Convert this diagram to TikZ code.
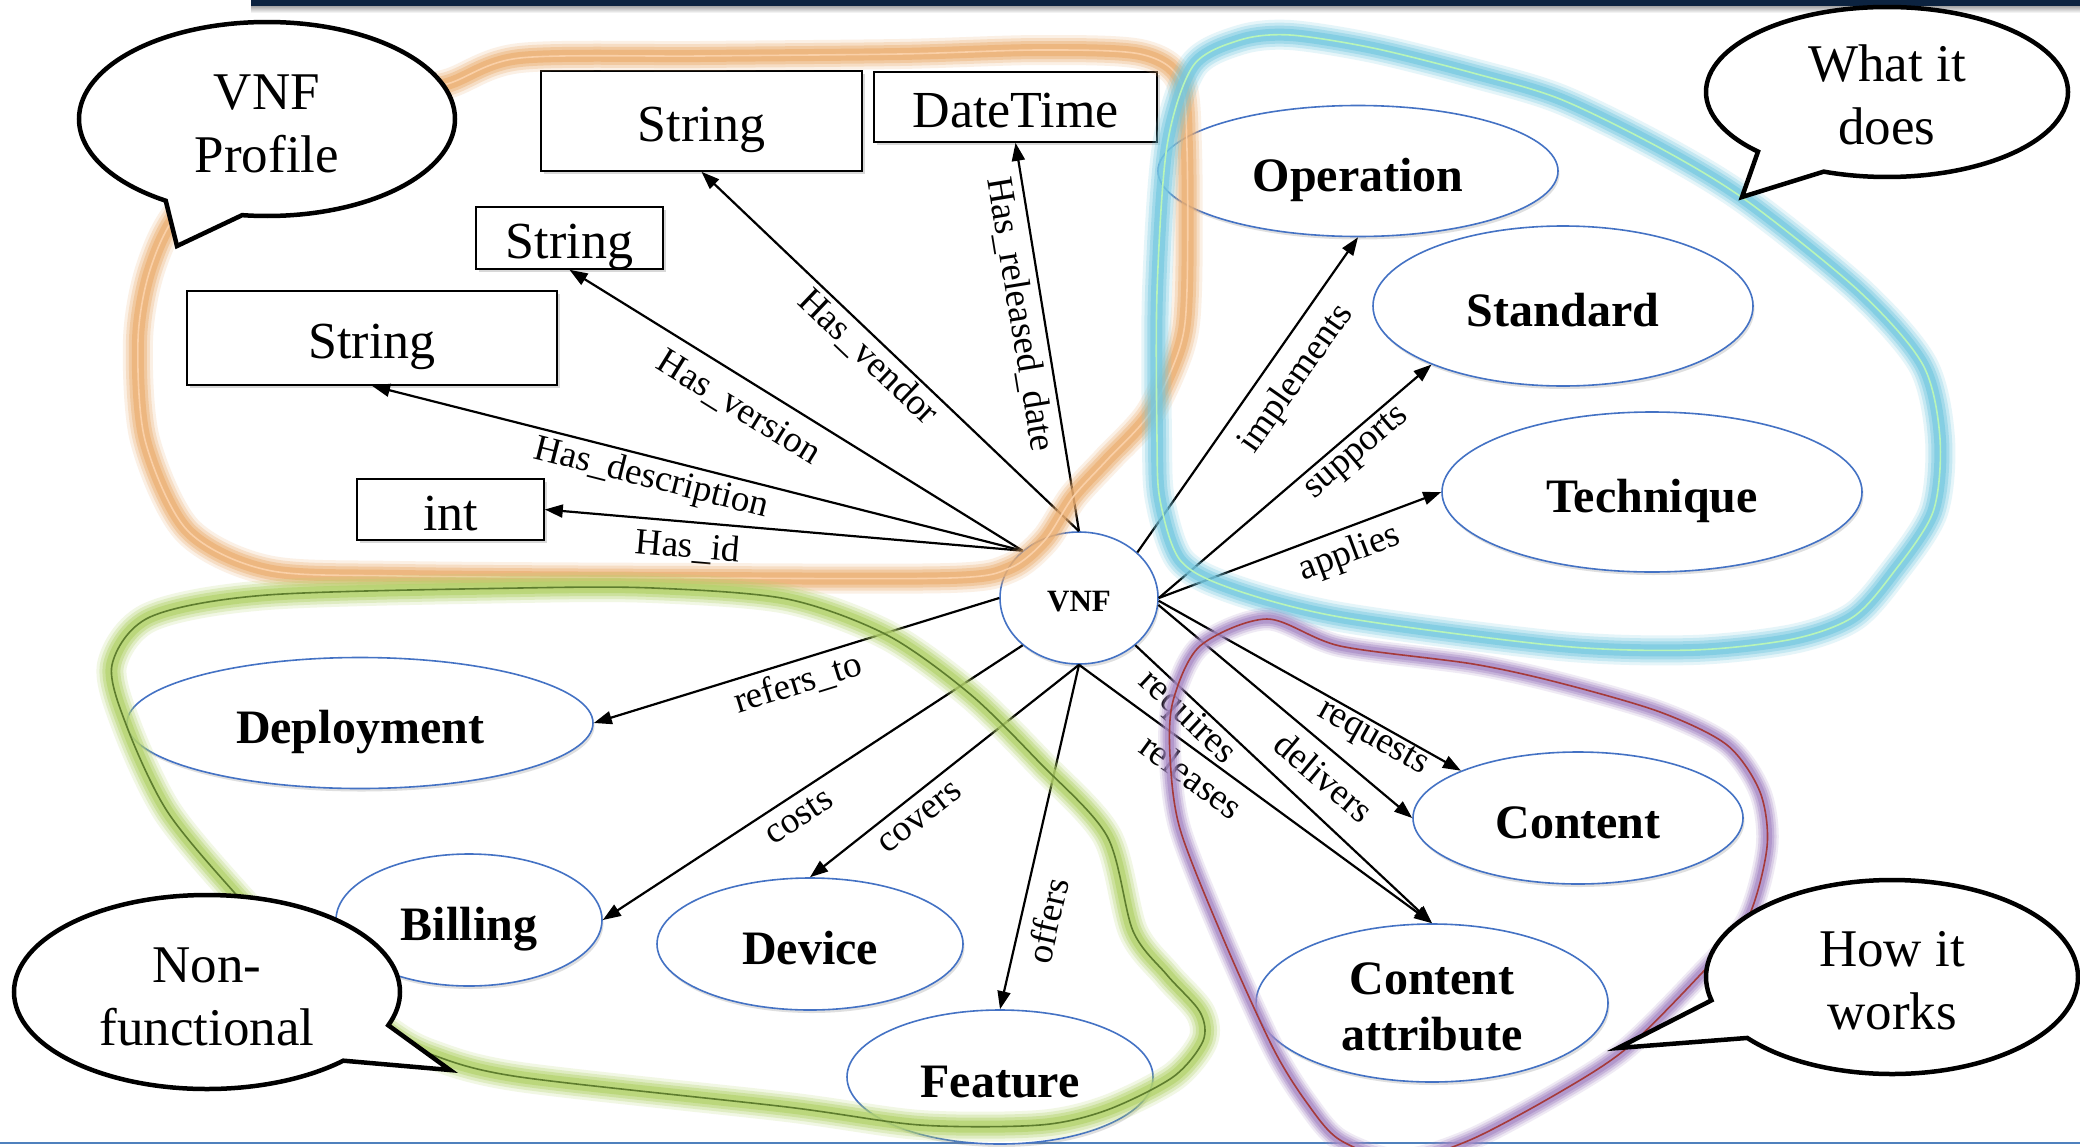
\documentclass[tikz,border=0pt]{standalone}
\usepackage{fontspec}
\setmainfont{Liberation Serif}
\usetikzlibrary{shapes.geometric,shapes.callouts,shadows,arrows.meta}
\definecolor{ellblue}{HTML}{4472C4}
\definecolor{navybar}{HTML}{0C2340}
\definecolor{botblue}{HTML}{4F81BD}
\definecolor{orglow}{HTML}{EBAE70}
\definecolor{orline}{HTML}{FAD0A8}
\definecolor{blglow}{HTML}{74C8E0}
\definecolor{blline}{HTML}{B8F5B8}
\definecolor{grglow}{HTML}{B3D36B}
\definecolor{grline}{HTML}{5E7D2E}
\definecolor{puglow}{HTML}{A88BC6}
\definecolor{puline}{HTML}{A53A3A}
\newcommand{\glowregion}[4]{%
  \foreach \gw/\go in {30/0.18, 24/0.28, 18/0.42, 12/0.65}{
    \draw[#1, line width={(#3)*(\gw)*1pt}, opacity=\go, line join=round] plot[smooth cycle] coordinates {#4};
  }
  \draw[#2, line width=1.6pt] plot[smooth cycle] coordinates {#4};
}
\begin{document}
\begin{tikzpicture}[x=1pt,y=-1pt,
  box/.style={draw=black, line width=1.6pt, fill=white, inner sep=0pt,
    font=\fontsize{52}{60}\selectfont, text height=41pt, text depth=0pt,
    drop shadow={shadow xshift=2.5pt, shadow yshift=-2.5pt, opacity=0.3}},
  ell/.style={ellipse, draw=ellblue, line width=1.6pt, fill=white, inner sep=0pt,
    font=\fontsize{48}{56}\selectfont\bfseries, align=center, text height=40pt, text depth=0pt,
    drop shadow={shadow xshift=1.5pt, shadow yshift=-3pt, opacity=0.25}},
  bubble/.style={ellipse callout, draw=black, line width=4.5pt, fill=white, inner sep=0pt,
    font=\fontsize{53}{63}\selectfont, align=center, callout pointer arc=25},
  arr/.style={-{Triangle[length=18pt,width=13pt]}, line width=2.2pt, black},
  lab/.style={font=\fontsize{37}{40}\selectfont, inner sep=0pt, sloped},
]
\useasboundingbox (0,0) rectangle (2080,1146);
\clip (0,0) rectangle (2080,1146);
\fill[white] (0,0) rectangle (2080,1146);

% top bar and bottom rule
\shade[top color=black!35, bottom color=white] (251,6) rectangle (2080,13);
\fill[navybar] (251,0) rectangle (2080,6);
\draw[botblue, line width=2.5pt] (0,1143) -- (2080,1143);

% data-type boxes
\node[box, minimum width=321pt, minimum height=100pt] (strT) at (701.5,121) {String};
\node[box, minimum width=283pt, minimum height=70pt] (dt) at (1015.5,107) {DateTime};
\node[box, minimum width=187pt, minimum height=62pt] (strM) at (569.5,238) {String};
\node[box, minimum width=370pt, minimum height=94pt] (strL) at (372,338) {String};
\node[box, minimum width=187pt, minimum height=61pt] (int) at (450.5,509.5) {int};

% ellipses
\node[ell, minimum width=158pt, minimum height=132pt, font=\fontsize{31}{36}\selectfont\bfseries, text height=26pt] (vnf) at (1079,598) {VNF};
\node[ell, minimum width=400pt, minimum height=131pt] (op) at (1358,171) {Operation};
\node[ell, minimum width=380pt, minimum height=160pt] (std) at (1563,306) {Standard};
\node[ell, minimum width=420pt, minimum height=160pt] (tech) at (1652,492) {Technique};
\node[ell, minimum width=466pt, minimum height=131pt] (dep) at (360,723) {Deployment};
\node[ell, minimum width=266pt, minimum height=132pt] (bill) at (469,920) {Billing};
\node[ell, minimum width=306pt, minimum height=132pt] (dev) at (810,944) {Device};
\node[ell, minimum width=306pt, minimum height=134pt] (feat) at (1000,1077) {Feature};
\node[ell, minimum width=330pt, minimum height=132pt] (cont) at (1578,818) {Content};
\node[ell, minimum width=352pt, minimum height=158pt, text height=, text depth=] (catt) at (1432,1003) {\rule{0pt}{40pt}Content\\attribute};

% connectors
\draw[arr] (vnf.140) -- node[lab, below=9pt, pos=0.696] (l1) {Has\_id} (int.east);
\draw[arr] (vnf.140) -- node[lab, below=4pt, pos=0.563] (l2) {Has\_description} (strL.south);
\draw[arr] (vnf.140) -- node[lab, below=13pt, pos=0.594] (l3) {Has\_version} (strM.south);
\draw[arr] (vnf.north) -- node[lab, below=3pt, pos=0.523] (l4) {Has\_vendor} (strT.south);
\draw[arr] (vnf.north) -- node[lab, below=7pt, pos=0.568] (l5) {Has\_released\_date} (dt.south);
\draw[arr] (vnf.38) -- node[lab, below=13pt, pos=0.607] (l6) {implements} (op.south);
\draw[arr] (vnf.east) -- node[lab, below=4pt, pos=0.682] (l7) {supports} (std.204);
\draw[arr] (vnf.east) -- node[lab, below=8pt, pos=0.644] (l8) {applies} (tech.west);
\draw[arr] (vnf.west) -- node[lab, below=6pt, pos=0.513] (l9) {refers\_to} (dep.east);
\draw[arr] (vnf.220) -- node[lab, below=9pt, pos=0.56] (l10) {costs} (bill.east);
\draw[arr] (vnf.south) -- node[lab, below=12pt, pos=0.641] (l11) {covers} (dev.north);
\draw[arr] (vnf.south) -- node[lab, below=12pt, pos=0.726] (l12) {offers} (feat.north);
\draw[arr] (vnf.-2) -- node[lab, below=1pt, pos=0.733] (l13) {requests} (cont.158);
\draw[arr] (vnf.-5) -- node[lab, below=11pt, pos=0.717] (l14) {delivers} (cont.west);
\draw[arr] (vnf.-40) -- node[lab, below=1pt, pos=0.214] (l15) {requires} (catt.north);
\draw[arr] (vnf.south) -- node[lab, below=9pt, pos=0.358] (l16) {releases} (catt.north);

% grouping regions
\glowregion{orglow}{orline}{1}{(447,84) (520,58) (700,56) (900,54) (1040,50) (1140,54) (1180,80) (1187,150) (1187,290) (1180,347) (1150,413) (1107,460) (1073,497) (1045,540) (1010,568) (950,578) (700,578) (400,576) (267,570) (187,530) (145,440) (138,340) (150,270) (180,210) (260,140) (370,100)}
\glowregion{blglow}{blline}{1}{(1193,66) (1240,40) (1290,35) (1373,48) (1473,73) (1560,99) (1660,148) (1747,201) (1860,292) (1923,365) (1940,439) (1933,512) (1893,573) (1853,617) (1793,639) (1693,650) (1560,646) (1340,617) (1230,588) (1180,560) (1160,500) (1157,439) (1157,292) (1167,146)}
\glowregion{grglow}{grline}{1}{(520,588) (653,588) (787,599) (887,635) (970,694) (1040,763) (1107,836) (1133,931) (1167,975) (1200,1012) (1203,1041) (1173,1077) (1107,1110) (1040,1125) (920,1125) (787,1107) (520,1077) (433,1055) (387,1030) (300,960) (233,891) (167,811) (127,727) (112,665) (150,617) (267,595)}
\glowregion{puglow}{puline}{0.75}{(1267,619) (1340,646) (1473,664) (1560,683) (1660,712) (1727,745) (1760,792) (1767,847) (1747,920) (1700,975) (1627,1048) (1560,1092) (1470,1140) (1400,1160) (1340,1140) (1307,1103) (1273,1048) (1223,938) (1180,829) (1170,756) (1173,701) (1200,646)}

% speech bubbles
\node[bubble, minimum width=376pt, minimum height=194pt, callout absolute pointer={(177,246)}] (vp) at (267,119) {\rule{0pt}{44pt}VNF\\Profile};
\node[bubble, minimum width=362pt, minimum height=170pt, callout absolute pointer={(1742,197)}] (wd) at (1887,92) {\rule{0pt}{42pt}What it\\does};
\node[bubble, minimum width=386pt, minimum height=194pt, callout absolute pointer={(450,1070)}] (nf) at (207,992) {\rule{0pt}{45pt}Non-\\functional};
\node[bubble, minimum width=372pt, minimum height=194pt, callout absolute pointer={(1618,1048)}] (hw) at (1892,977) {\rule{0pt}{43pt}How it\\works};
\end{tikzpicture}
\end{document}
